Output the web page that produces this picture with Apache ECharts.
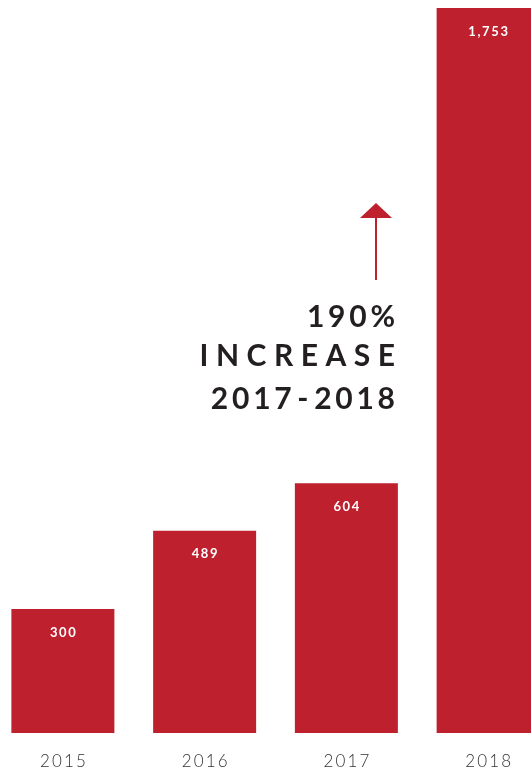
<!DOCTYPE html>
<html><head><meta charset="utf-8">
<script src="https://cdn.jsdelivr.net/npm/echarts@6/dist/echarts.min.js"></script>
<style>html,body{margin:0;padding:0;background:#fff}#c{width:531px;height:771px}</style>
</head><body><div id="c"></div>
<script>
const years = ['2015', '2016', '2017', '2018'];
const values = [300, 489, 604, 1753];
const noteLines = ['190%', 'INCREASE', '2017-2018'];

function spaced(s, sp) { return s.split('').join(sp); }

const chart = echarts.init(document.getElementById('c'));
chart.setOption({
  animation: false,
  backgroundColor: '#ffffff',
  grid: { left: -8, right: -28, top: 8, bottom: 38, outerBoundsMode: 'none', containLabel: false },
  xAxis: {
    type: 'category', data: years,
    axisLine: { show: false }, axisTick: { show: false },
    axisLabel: {
      margin: 20, fontFamily: 'Lato', fontSize: 17, fontWeight: 300, color: '#333',
      formatter: v => spaced(v, '\u2009')
    }
  },
  yAxis: { type: 'value', min: 0, max: 1753, show: false, splitLine: { show: false } },
  series: [{
    type: 'bar', data: values, barWidth: 103,
    itemStyle: { color: '#BE202E' },
    label: {
      show: true, position: 'insideTop', distance: 17,
      color: '#fff', fontFamily: 'Lato', fontWeight: 'bold', fontSize: 13,
      formatter: p => spaced(p.value.toLocaleString('en-US'), '\u2009')
    }
  }],
  graphic: [
    { type: 'line', shape: { x1: 376, y1: 280, x2: 376, y2: 216 }, style: { stroke: '#BE202E', lineWidth: 2 } },
    { type: 'polygon', shape: { points: [[376, 203], [392, 218], [360, 218]] }, style: { fill: '#BE202E' } },
    { type: 'text', right: 136, top: 302, style: { text: spaced(noteLines[0], '\u2009'), font: 'bold 30px Lato', fill: '#231f20', align: 'right' } },
    { type: 'text', right: 136, top: 341, style: { text: spaced(noteLines[1], '\u2009\u200A\u200A'), font: 'bold 30px Lato', fill: '#231f20', align: 'right' } },
    { type: 'text', right: 136, top: 384, style: { text: spaced(noteLines[2], '\u2009').replace('-', '\u200A-\u200A'), font: 'bold 30px Lato', fill: '#231f20', align: 'right' } }
  ]
});
</script></body></html>
